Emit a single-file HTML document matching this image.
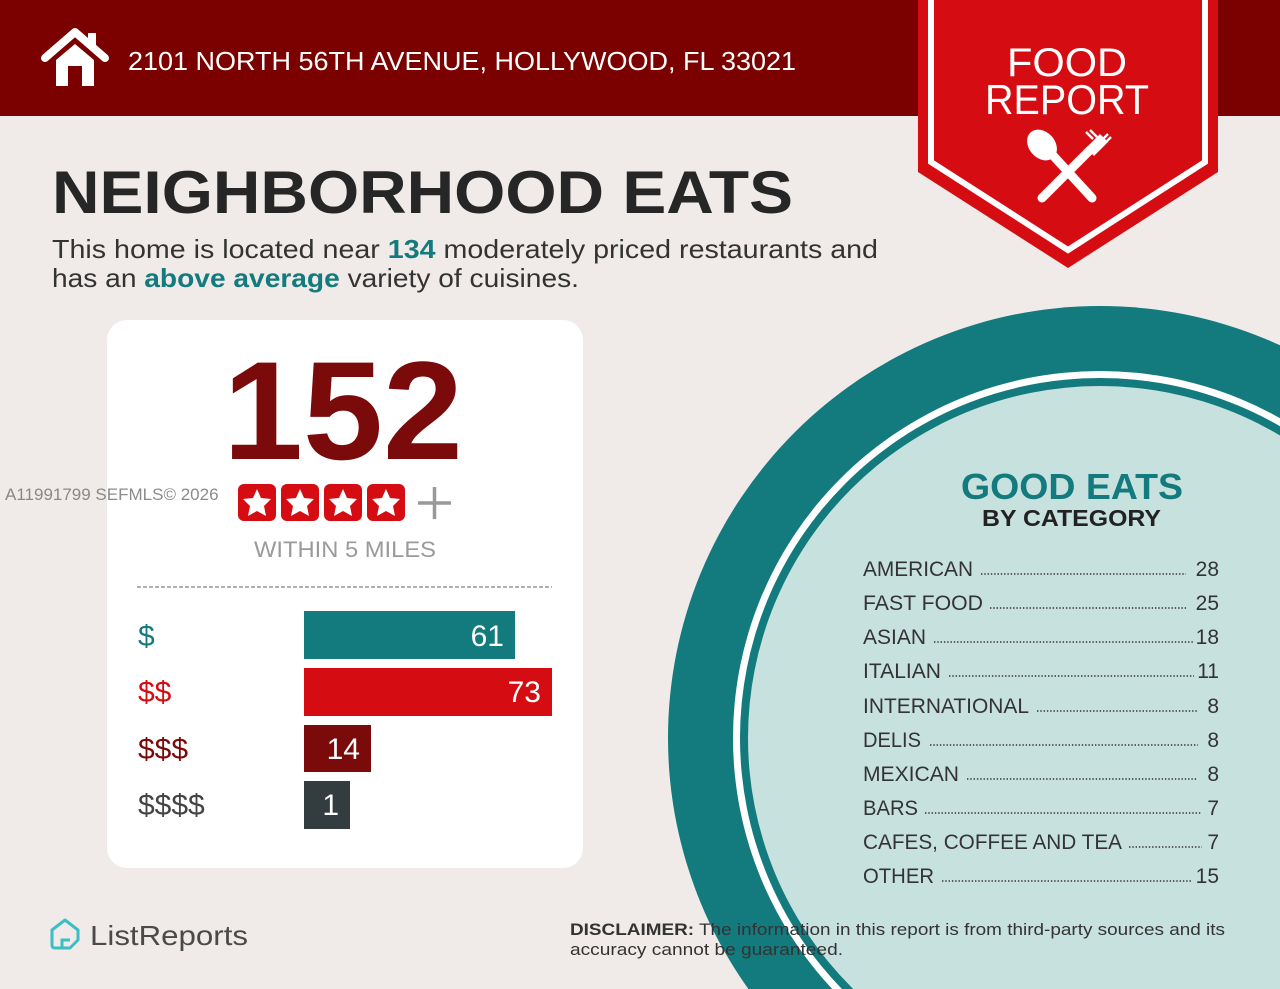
<!DOCTYPE html>
<html><head><meta charset="utf-8"><style>
html,body{margin:0;padding:0;background:#f0ebe8;width:1280px;height:989px;overflow:hidden;}
svg{display:block;overflow:hidden;font-family:"Liberation Sans",sans-serif;}
</style></head><body>
<svg width="1280" height="989" viewBox="0 0 1280 989" xmlns="http://www.w3.org/2000/svg" overflow="hidden">
<defs><clipPath id="pg"><rect width="1280" height="989"/></clipPath></defs>
<g clip-path="url(#pg)">
<rect width="1280" height="989" fill="#f0ebe8"/>
<rect width="1280" height="116" fill="#7b0000"/>
<path d="M45 58 L75 32 L105 58" fill="none" stroke="#fff" stroke-width="8" stroke-linejoin="round" stroke-linecap="round"/>
<rect x="88" y="33" width="8" height="14" fill="#fff"/>
<path d="M56 60 L75 44 L94 60 L94 86 L82 86 L82 66 L68 66 L68 86 L56 86 Z" fill="#fff"/>
<text x="128" y="70" font-size="26" fill="#fff" textLength="668" lengthAdjust="spacingAndGlyphs">2101 NORTH 56TH AVENUE, HOLLYWOOD, FL 33021</text>
<polygon points="918,0 1218,0 1218,172 1068,268 918,172" fill="#d50d12"/>
<polyline points="931,0 931,162 1068,250 1205,162 1205,0" fill="none" stroke="#fff" stroke-width="6"/>
<text x="1067" y="76" font-size="40" fill="#fff" text-anchor="middle" textLength="120" lengthAdjust="spacingAndGlyphs">FOOD</text>
<text x="1067" y="114" font-size="42" fill="#fff" text-anchor="middle" textLength="164" lengthAdjust="spacingAndGlyphs">REPORT</text>
<line x1="1048" y1="150" x2="1092" y2="198" stroke="#fff" stroke-width="9" stroke-linecap="round"/>
<ellipse cx="1042" cy="145" rx="13" ry="17" transform="rotate(-42 1042 145)" fill="#fff"/>
<line x1="1090" y1="150" x2="1042" y2="198" stroke="#fff" stroke-width="9" stroke-linecap="round"/>
<path d="M1086 148 L1100 134 L1108 142 L1094 156 Z" fill="#fff"/>
<g stroke="#fff" stroke-width="2.5"><line x1="1093" y1="139" x2="1086" y2="132"/><line x1="1097" y1="137" x2="1090" y2="130"/><line x1="1101" y1="141" x2="1108" y2="134"/><line x1="1104" y1="144" x2="1111" y2="137"/></g>
<text x="52" y="213" font-size="60" font-weight="bold" fill="#262626" textLength="741" lengthAdjust="spacingAndGlyphs">NEIGHBORHOOD EATS</text>
<text x="52" y="258" font-size="26" fill="#333" textLength="826" lengthAdjust="spacingAndGlyphs">This home is located near <tspan fill="#137a7e" font-weight="bold">134</tspan> moderately priced restaurants and</text>
<text x="52" y="287" font-size="26" fill="#333" textLength="527" lengthAdjust="spacingAndGlyphs">has an <tspan fill="#137a7e" font-weight="bold">above average</tspan> variety of cuisines.</text>
<rect x="107" y="320" width="476" height="548" rx="20" fill="#fff"/>
<text x="343" y="459" font-size="140" font-weight="bold" fill="#7b0a0a" text-anchor="middle" textLength="240" lengthAdjust="spacingAndGlyphs">152</text>
<g fill="#d50d12">
<rect x="238" y="484" width="38" height="37" rx="6"/><rect x="281" y="484" width="38" height="37" rx="6"/><rect x="324" y="484" width="38" height="37" rx="6"/><rect x="367" y="484" width="38" height="37" rx="6"/>
</g>
<g fill="#fff">
<polygon points="257,489 261,498 271,499 264,506 266,516 257,511 248,516 250,506 243,499 253,498"/>
<polygon points="300,489 304,498 314,499 307,506 309,516 300,511 291,516 293,506 286,499 296,498"/>
<polygon points="343,489 347,498 357,499 350,506 352,516 343,511 334,516 336,506 329,499 339,498"/>
<polygon points="386,489 390,498 400,499 393,506 395,516 386,511 377,516 379,506 372,499 382,498"/>
</g>
<path d="M418 503 H451 M434.5 487 V519" stroke="#999" stroke-width="3.5"/>
<text x="345" y="557" font-size="22" fill="#9a9a9a" text-anchor="middle" textLength="182" lengthAdjust="spacingAndGlyphs">WITHIN 5 MILES</text>
<line x1="137" y1="587" x2="552" y2="587" stroke="#999" stroke-width="1.5" stroke-dasharray="4,2"/>
<rect x="304" y="611" width="211" height="48" fill="#137a7e"/>
<rect x="304" y="668" width="248" height="48" fill="#d50d12"/>
<rect x="304" y="725" width="67" height="47" fill="#7b0a0a"/>
<rect x="304" y="781" width="46" height="48" fill="#333d40"/>
<g font-size="30" fill="#fff" text-anchor="end">
<text x="504" y="646">61</text><text x="541" y="702">73</text><text x="360" y="759">14</text><text x="339" y="815">1</text>
</g>
<g font-size="30">
<text x="138" y="646" fill="#137a7e">$</text>
<text x="138" y="702" fill="#d50d12">$$</text>
<text x="138" y="759" fill="#7b0a0a">$$$</text>
<text x="138" y="815" fill="#444">$$$$</text>
</g>
<text x="5" y="500" font-size="17" fill="#777" opacity="0.85">A11991799  SEFMLS© 2026</text>
<circle cx="1100" cy="738" r="432" fill="#137a7e"/>
<circle cx="1100" cy="738" r="367" fill="#fff"/>
<circle cx="1100" cy="738" r="360" fill="#137a7e"/>
<circle cx="1100" cy="738" r="352" fill="#c7e1df"/>
<text x="961" y="499" font-size="36" font-weight="bold" fill="#137a7e" textLength="222" lengthAdjust="spacingAndGlyphs">GOOD EATS</text>
<text x="982" y="526" font-size="23" font-weight="bold" fill="#222" textLength="179" lengthAdjust="spacingAndGlyphs">BY CATEGORY</text>
<g font-size="21" fill="#333">
<text x="863" y="576" textLength="110" lengthAdjust="spacingAndGlyphs">AMERICAN</text>
<text x="863" y="610" textLength="120" lengthAdjust="spacingAndGlyphs">FAST FOOD</text>
<text x="863" y="644" textLength="63" lengthAdjust="spacingAndGlyphs">ASIAN</text>
<text x="863" y="678" textLength="78" lengthAdjust="spacingAndGlyphs">ITALIAN</text>
<text x="863" y="713" textLength="166" lengthAdjust="spacingAndGlyphs">INTERNATIONAL</text>
<text x="863" y="747" textLength="58" lengthAdjust="spacingAndGlyphs">DELIS</text>
<text x="863" y="781" textLength="96" lengthAdjust="spacingAndGlyphs">MEXICAN</text>
<text x="863" y="815" textLength="55" lengthAdjust="spacingAndGlyphs">BARS</text>
<text x="863" y="849" textLength="259" lengthAdjust="spacingAndGlyphs">CAFES, COFFEE AND TEA</text>
<text x="863" y="883" textLength="71" lengthAdjust="spacingAndGlyphs">OTHER</text>
</g>
<g font-size="21" fill="#333" text-anchor="end">
<text x="1219" y="576">28</text><text x="1219" y="610">25</text><text x="1219" y="644">18</text><text x="1219" y="678">11</text><text x="1219" y="713">8</text><text x="1219" y="747">8</text><text x="1219" y="781">8</text><text x="1219" y="815">7</text><text x="1219" y="849">7</text><text x="1219" y="883">15</text>
</g>
<g stroke="#333" stroke-width="1.6" stroke-dasharray="1.4,1.9">
<line x1="981" y1="574" x2="1186" y2="574"/>
<line x1="990" y1="608" x2="1186" y2="608"/>
<line x1="934" y1="642" x2="1194" y2="642"/>
<line x1="949" y1="676" x2="1194" y2="676"/>
<line x1="1037" y1="711" x2="1198" y2="711"/>
<line x1="930" y1="745" x2="1198" y2="745"/>
<line x1="967" y1="779" x2="1198" y2="779"/>
<line x1="925" y1="813" x2="1202" y2="813"/>
<line x1="1129" y1="847" x2="1202" y2="847"/>
<line x1="942" y1="881" x2="1192" y2="881"/>
</g>
<text x="570" y="935" font-size="17" fill="#333" textLength="655" lengthAdjust="spacingAndGlyphs"><tspan font-weight="bold">DISCLAIMER:</tspan> The information in this report is from third-party sources and its</text>
<text x="570" y="955" font-size="17" fill="#333" textLength="273" lengthAdjust="spacingAndGlyphs">accuracy cannot be guaranteed.</text>
<path d="M52 935 L52 930 L65 920 L78 930 L78 940 L70 948 L55 948 Q52 948 52 945 Z" fill="none" stroke="#3bbfc4" stroke-width="3" stroke-linejoin="round"/>
<path d="M62 948 L62 940 L70 940" fill="none" stroke="#3bbfc4" stroke-width="3"/>
<text x="90" y="945" font-size="28" fill="#4a4a4a" textLength="158" lengthAdjust="spacingAndGlyphs">ListReports</text>
</g>
</svg>
</body></html>
